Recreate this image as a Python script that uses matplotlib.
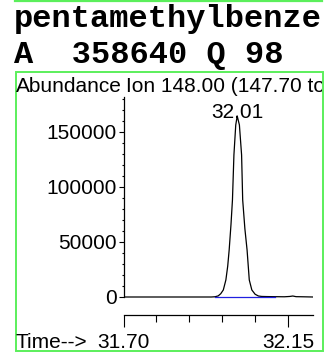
import matplotlib
matplotlib.use("Agg")
import matplotlib.pyplot as plt
from matplotlib.transforms import Bbox
from matplotlib.patches import Rectangle
from matplotlib.lines import Line2D

# ion chromatogram, m/z 148
compound = "pentamethylbenze"
area_line = "A  358640 Q 98"
ion_title = "Ion 148.00 (147.70 to 148.70)"
peak_rt = 32.011
peak_label = "32.01"

times = [31.700, 31.800, 31.900, 31.940, 31.950, 31.959, 31.966, 31.973,
         31.980, 31.985, 31.989, 31.994, 31.998, 32.002, 32.007, 32.011,
         32.017, 32.023, 32.026, 32.032, 32.038, 32.044, 32.051, 32.060,
         32.069, 32.078, 32.090, 32.110, 32.140, 32.155, 32.163, 32.172,
         32.190, 32.218]
abundance = [0, 0, 0, 0, 200, 1000, 3000, 6400,
             15500, 28000, 42700, 66000, 88200, 129100, 156400, 164500,
             156400, 129100, 88200, 62000, 42700, 15500, 6400, 2500,
             900, 500, 400, 300, 200, 500, 900, 300,
             200, 0]
baseline_t = [31.950, 32.114]
baseline_a = [0, 0]

y_major = [0, 50000, 100000, 150000]
y_minor = list(range(0, 190000, 10000))
x_major = [31.70, 32.15]
x_minor = [31.79, 31.88, 31.97, 32.06]
x_labels = ["31.70", "32.15"]

W, H = 333, 353
green = "#5bef5b"
sans = "Liberation Sans"

fig = plt.figure(figsize=(W / 100, H / 100), dpi=100)


def fx(px):
    return px / W


def fy(py):
    return 1 - py / H


# header text
fig.add_artist(Line2D([fx(15), fx(322)], [fy(0.8), fy(0.8)], color=green, lw=1.6))
fig.text(fx(14), fy(27.5), compound, family="Liberation Mono", weight="bold",
         fontsize=23, va="baseline", ha="left")
fig.text(fx(14), fy(62.5), area_line, family="Liberation Mono", weight="bold",
         fontsize=23, va="baseline", ha="left")

# frame round the plot
fig.add_artist(Rectangle((fx(15.5), fy(351)), fx(322.5) - fx(15.5), fy(72) - fy(351),
                         transform=fig.transFigure, fill=False, ec=green, lw=1.4))

fig.text(fx(16), fy(91.5), "Abundance", family=sans, fontsize=15, va="baseline")
t = fig.text(fx(126), fy(91.5), ion_title, family=sans, fontsize=15, va="baseline")
t.set_clip_box(Bbox.from_extents(15, 0, 322, H))
t.set_clip_on(True)
fig.text(fx(16), fy(348), "Time-->", family=sans, fontsize=15, va="baseline")

ax = fig.add_axes([fx(123.5), fy(315), fx(313) - fx(123.5), fy(97) - fy(315)])
ax.plot(times, abundance, color="black", lw=0.9)
ax.plot(baseline_t, baseline_a, color="#2020e0", lw=0.9, zorder=3)
ax.text(peak_rt, 163000, peak_label, family=sans, fontsize=15,
        ha="center", va="baseline")

ax.set_xlim(31.70, 32.2183)
ax.set_ylim(-16364, 181818)
for s in ["top", "right"]:
    ax.spines[s].set_visible(False)
ax.spines["left"].set_bounds(0, 181818)
ax.spines["left"].set_linewidth(0.9)
ax.spines["bottom"].set_linewidth(0.9)

ax.set_yticks(y_major)
ax.set_yticks(y_minor, minor=True)
ax.set_yticklabels([str(v) for v in y_major], family=sans, fontsize=15)
ax.set_xticks(x_major)
ax.set_xticks(x_minor, minor=True)
ax.set_xticklabels(x_labels, family=sans, fontsize=15)
ax.tick_params(axis="y", which="major", length=3.6, width=0.8, pad=1)
ax.tick_params(axis="y", which="minor", length=1.8, width=0.8)
ax.tick_params(axis="x", which="major", length=8.6, width=0.8, pad=4.2)
ax.tick_params(axis="x", which="minor", length=5, width=0.8)

fig.savefig("out.png", dpi=100)
